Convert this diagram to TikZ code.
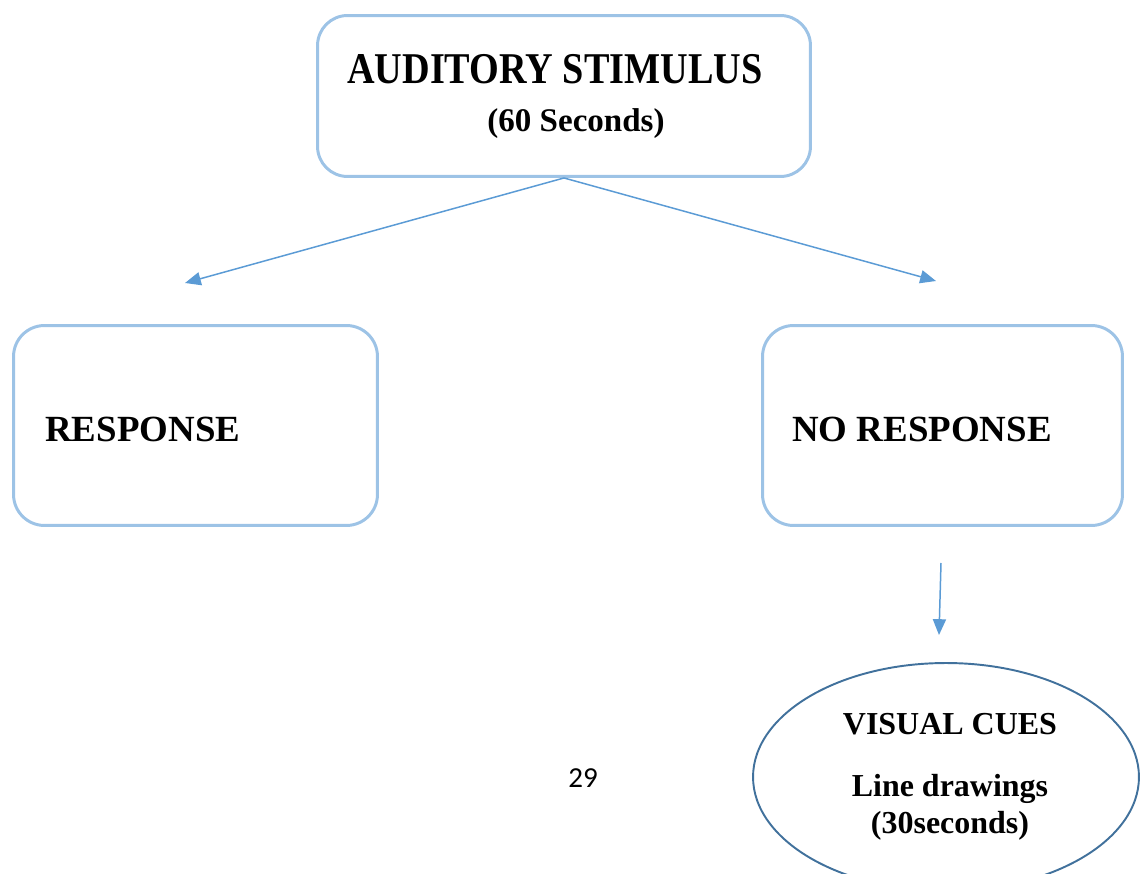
\documentclass[tikz,border=0pt]{standalone}
\usepackage{fontspec}
\setmainfont{Liberation Serif}
\newfontfamily\condserif[FakeStretch=0.87]{Liberation Serif}
\newfontfamily\pagefont{Carlito}
\usetikzlibrary{arrows.meta,shapes.geometric}
\definecolor{boxblue}{HTML}{9DC3E6}
\definecolor{arrowblue}{HTML}{5B9BD5}
\definecolor{ovalblue}{HTML}{41719C}
\begin{document}
\begin{tikzpicture}[x=0.02cm, y=-0.02cm,
    stepbox/.style={draw=boxblue, line width=1.7pt, rounded corners=0.62cm, minimum height=4cm},
    cueoval/.style={ellipse, draw=ovalblue, line width=1.1pt, inner sep=0pt, align=center},
    label/.style={inner sep=0pt, font=\bfseries\fontsize{21}{25}\selectfont},
    link/.style={draw=arrowblue, line width=0.85pt, -{Triangle[length=9pt, width=7.5pt]}}]
    \clip (0,0) rectangle (1140,874);
    % stimulus
    \node[stepbox, minimum width=9.86cm, minimum height=3.22cm, rounded corners=0.6cm] (stim) at (564,96) {};
    \node[label, anchor=base west, font=\condserif\bfseries\fontsize{25}{30}\selectfont] (stimtitle) at (347,84) {AUDITORY STIMULUS};
    \node[label, anchor=base, font=\bfseries\fontsize{18.8}{22}\selectfont] (stimtime) at (576,132) {(60 Seconds)};
    % responses
    \node[stepbox, minimum width=7.28cm] (resp) at (195.5,425.5) {};
    \node[label, anchor=base west] (resplabel) at (45,442) {RESPONSE};
    \node[stepbox, minimum width=7.2cm] (noresp) at (942.5,425.5) {};
    \node[label, anchor=base west] (noresplabel) at (792,442) {NO RESPONSE};
    % visual cues
    \node[cueoval, minimum width=7.72cm, minimum height=4.56cm,
          font=\bfseries\fontsize{18.2}{21}\selectfont] (cues) at (946,777)
          {\hspace*{0.16cm}VISUAL CUES\\[0.5cm]\hspace*{0.16cm}Line drawings\\\hspace*{0.16cm}(30seconds)};
    % arrows
    \coordinate (resptip) at (185,283);
    \coordinate (noresptip) at (936,281);
    \coordinate (cuetail) at (941,563);
    \coordinate (cuetip) at (939,635);
    \draw[link] (stim.south) -- (resptip);
    \draw[link] (stim.south) -- (noresptip);
    \draw[link] (cuetail) -- (cuetip);
    % page number
    \node[inner sep=0pt, anchor=base west, font=\pagefont\fontsize{16.5}{20}\selectfont] (pagenum) at (568,787) {29};
\end{tikzpicture}
\end{document}
